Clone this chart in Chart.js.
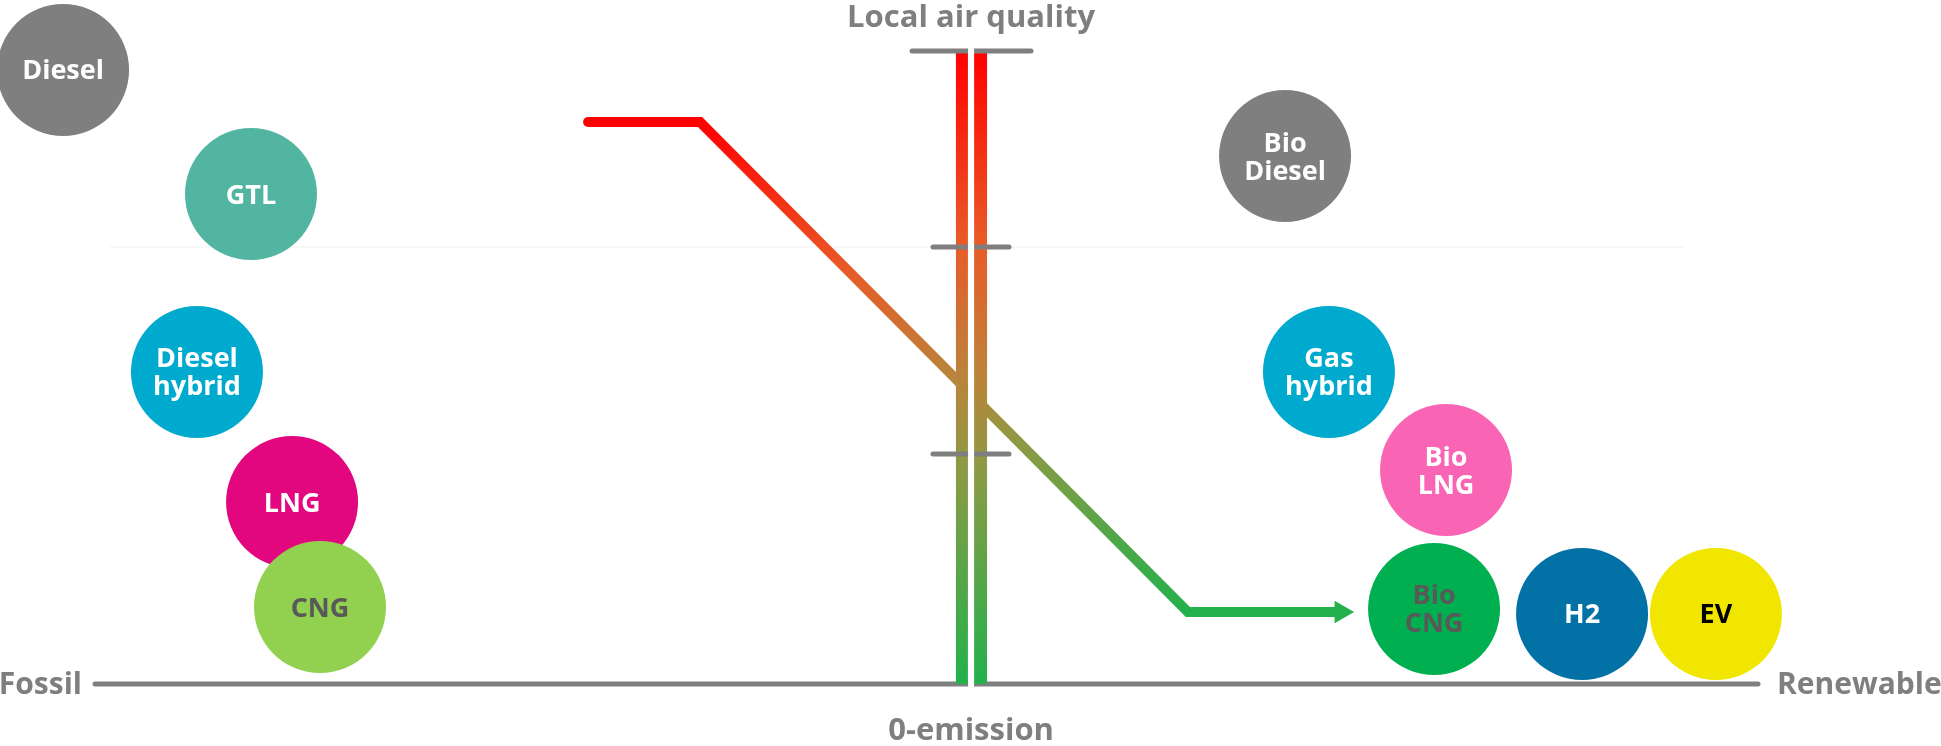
<!DOCTYPE html>
<html>
<head>
<meta charset="utf-8">
<title>Fuels: fossil to renewable vs local air quality</title>
<script src="https://cdn.jsdelivr.net/npm/chart.js@4.4.1/dist/chart.umd.min.js"></script>
<style>
  html, body { margin: 0; padding: 0; background: #fff; }
  #wrap { width: 1941px; height: 746px; position: relative; }
</style>
</head>
<body>
<div id="wrap"><canvas id="fuelChart"></canvas></div>
<script>
// fuels placed on fossil (0) -> renewable (100) and 0-emission (0) -> local air quality (100)
const fuels = ['Diesel', 'GTL', 'Diesel\nhybrid', 'LNG', 'CNG', 'Bio\nDiesel', 'Gas\nhybrid', 'Bio\nLNG', 'Bio\nCNG', 'H2', 'EV'];
const fossilToRenewable = [-1.92, 9.38, 6.13, 11.85, 13.53, 71.56, 74.2, 81.24, 80.52, 89.42, 97.47];
const localAirQuality = [97.0, 77.4, 49.3, 28.75, 12.16, 83.4, 49.3, 33.8, 11.85, 11.06, 11.06];
const fuelColors = ['#7f7f7f', '#52b5a1', '#00a9ce', '#e2077e', '#92d050', '#7f7f7f', '#00a9ce', '#f964b4', '#00b050', '#0272a6', '#f1e600'];
const labelColors = ['#fff', '#fff', '#fff', '#fff', '#595959', '#fff', '#fff', '#fff', '#595959', '#fff', '#000'];

// transition path (red -> green) and its arrow head
const pathX = [29.65, 36.38, 65.72, 74.50];
const pathY = [88.78, 88.78, 11.37, 11.37];
const arrowX = [74.93];
const arrowY = [11.37];

// the 0-emission scale in the middle
const barX = [52.13, 53.25];
const gapX = 52.68;
const tickLevels = [100, 69.04, 36.33];
const tickFrom = [49.13, 50.39, 50.39];
const tickTo = [56.28, 54.96, 54.96];
const gridLevel = 69.04;
const gridFrom = 0.9;
const gridTo = 95.55;

const xMin = -5.713, xMax = 111.004;
const yMin = -9.795, yMax = 108.057;

const GREY = '#7f7f7f';

function redGreen(chart, top, bottom) {
  const { ctx, chartArea, scales } = chart;
  if (!chartArea) return null;
  const g = ctx.createLinearGradient(0, scales.y.getPixelForValue(top), 0, scales.y.getPixelForValue(bottom));
  g.addColorStop(0, '#ff0000');
  g.addColorStop(0.3, '#e95a27');
  g.addColorStop(0.52, '#b9853c');
  g.addColorStop(0.66, '#8c9a44');
  g.addColorStop(1, '#22b14c');
  return g;
}

const textPlugin = {
  id: 'fuelText',
  afterDatasetsDraw(chart) {
    const { ctx, scales: { x, y } } = chart;
    ctx.save();
    ctx.textBaseline = 'alphabetic';
    ctx.textAlign = 'center';
    ctx.font = 'bold 27px "Open Sans"';
    chart.getDatasetMeta(0).data.forEach((pt, i) => {
      const lines = fuels[i].split('\n');
      ctx.fillStyle = labelColors[i];
      lines.forEach((line, j) => {
        const dy = (j - (lines.length - 1) / 2) * 28;
        ctx.fillText(line, pt.x, pt.y + dy + 9.5);
      });
    });

    const axisY = y.getPixelForValue(0);
    ctx.fillStyle = GREY;
    ctx.font = 'bold 30px "Open Sans"';
    ctx.textAlign = 'right';
    ctx.fillText('Fossil', x.getPixelForValue(0) - 13, axisY + 10);
    ctx.textAlign = 'left';
    ctx.fillText('Renewable', x.getPixelForValue(100) + 19, axisY + 10);
    ctx.textAlign = 'center';
    ctx.font = 'bold 31px "Open Sans"';
    ctx.fillText('Local air quality', x.getPixelForValue(gapX), y.getPixelForValue(100) - 24);
    ctx.fillText('0-emission', x.getPixelForValue(gapX), axisY + 56);
    ctx.restore();
  }
};

const datasets = [
  {
    type: 'scatter',
    label: 'Fuels',
    data: fuels.map((f, i) => ({ x: fossilToRenewable[i], y: localAirQuality[i] })),
    pointRadius: 66,
    pointBackgroundColor: fuelColors,
    pointBorderWidth: 0,
    clip: false,
    order: 3
  },
  {
    type: 'line',
    label: 'Path',
    data: pathX.map((v, i) => ({ x: v, y: pathY[i] })),
    borderColor: ctx => redGreen(ctx.chart, pathY[0], pathY[pathY.length - 1]),
    borderWidth: 10,
    borderCapStyle: 'round',
    borderJoinStyle: 'miter',
    pointRadius: 0,
    fill: false,
    order: 4
  },
  {
    type: 'scatter',
    label: 'Arrow',
    data: arrowX.map((v, i) => ({ x: v, y: arrowY[i] })),
    pointStyle: 'triangle',
    rotation: 90,
    pointRadius: 13,
    pointBackgroundColor: '#22b14c',
    pointBorderWidth: 0,
    order: 4
  },
  {
    type: 'line',
    label: 'Axis',
    data: [{ x: 0, y: 0 }, { x: 100, y: 0 }],
    borderColor: GREY,
    borderWidth: 5,
    borderCapStyle: 'round',
    pointRadius: 0,
    order: 6
  },
  {
    type: 'line',
    label: 'Grid',
    data: [{ x: gridFrom, y: gridLevel }, { x: gridTo, y: gridLevel }],
    borderColor: '#f0f0f0',
    borderWidth: 1,
    pointRadius: 0,
    order: 9
  }
];

barX.forEach(v => {
  datasets.push({
    type: 'line',
    label: 'Scale',
    data: [{ x: v, y: 0 }, { x: v, y: 100 }],
    borderColor: ctx => redGreen(ctx.chart, 100, 0),
    borderWidth: v === barX[0] ? 12 : 13,
    borderCapStyle: 'butt',
    pointRadius: 0,
    order: 2
  });
});

tickLevels.forEach((lvl, i) => {
  datasets.push({
    type: 'line',
    label: 'Tick',
    data: [{ x: tickFrom[i], y: lvl }, { x: tickTo[i], y: lvl }],
    borderColor: GREY,
    borderWidth: 5,
    borderCapStyle: 'round',
    pointRadius: 0,
    order: 1
  });
});

datasets.push({
  type: 'line',
  label: 'Gap',
  data: [{ x: gapX, y: -1.5 }, { x: gapX, y: 101.5 }],
  borderColor: '#ffffff',
  borderWidth: 6,
  borderCapStyle: 'butt',
  pointRadius: 0,
  order: 0
});

new Chart(document.getElementById('fuelChart').getContext('2d'), {
  data: { datasets },
  options: {
    responsive: true,
    maintainAspectRatio: false,
    animation: false,
    events: [],
    layout: { padding: 0, autoPadding: false },
    scales: {
      x: { type: 'linear', min: xMin, max: xMax, display: false },
      y: { type: 'linear', min: yMin, max: yMax, display: false }
    },
    plugins: {
      legend: { display: false },
      tooltip: { enabled: false }
    }
  },
  plugins: [textPlugin]
});
</script>
</body>
</html>
